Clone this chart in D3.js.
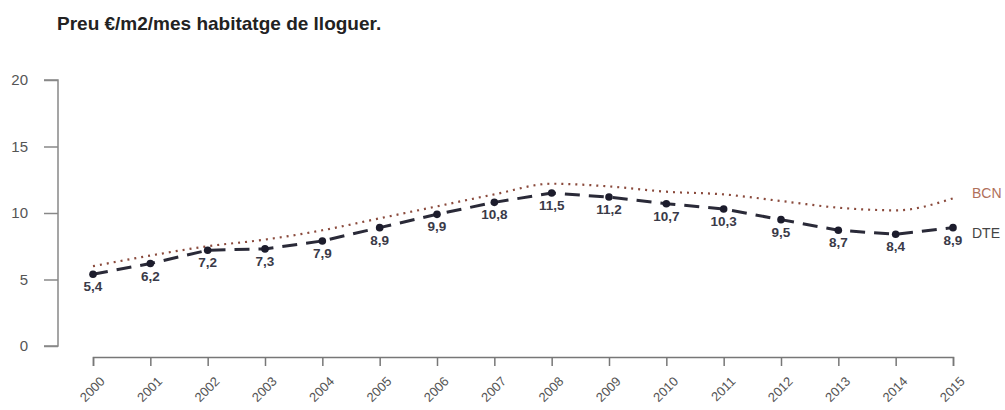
<!DOCTYPE html>
<html>
<head>
<meta charset="utf-8">
<script src="https://cdn.jsdelivr.net/npm/d3@7"></script>
<style>
  body { margin: 0; background: #fff; }
  svg { display: block; font-family: "Liberation Sans", Arial, Helvetica, sans-serif; }
</style>
</head>
<body>
<svg id="chart" width="1005" height="410"></svg>
<script>
const years = ["2000","2001","2002","2003","2004","2005","2006","2007","2008","2009","2010","2011","2012","2013","2014","2015"];
const dteValues = [5.4, 6.2, 7.2, 7.3, 7.9, 8.9, 9.9, 10.8, 11.5, 11.2, 10.7, 10.3, 9.5, 8.7, 8.4, 8.9];
const bcnValues = [6.0, 6.8, 7.5, 8.0, 8.7, 9.6, 10.5, 11.4, 12.2, 12.0, 11.6, 11.4, 10.9, 10.4, 10.2, 11.1];
const yTicks = [0, 5, 10, 15, 20];
const title = "Preu €/m2/mes habitatge de lloguer.";
const seriesNames = ["BCN", "DTE"];

const svg = d3.select("#chart");
const x = d3.scalePoint().domain(years).range([93, 953]);
const y = d3.scaleLinear().domain([0, 20]).range([346, 80]);

svg.append("text")
  .attr("x", 57).attr("y", 30)
  .attr("font-size", 19).attr("font-weight", "bold").attr("fill", "#222")
  .text(title);

// Y axis
const yAxis = svg.append("g").attr("transform", "translate(58,0)")
  .call(d3.axisLeft(y).tickValues(yTicks).tickSize(14).tickPadding(16).tickFormat(d3.format("d")));
yAxis.select(".domain").attr("stroke", "#888").attr("stroke-width", 1.5).attr("d", "M-14,80H0V346H-14");
yAxis.selectAll(".tick line").attr("stroke", "#888").attr("stroke-width", 1.5);
yAxis.selectAll(".tick text").attr("font-size", 15).attr("fill", "#555").attr("font-family", "Liberation Sans, Arial, sans-serif");

// X axis
const xAxis = svg.append("g").attr("transform", "translate(0,357)")
  .call(d3.axisBottom(x).tickSize(9).tickSizeOuter(9));
xAxis.select(".domain").attr("stroke", "#777").attr("stroke-width", 1.5);
xAxis.selectAll(".tick line").attr("stroke", "#777").attr("stroke-width", 1.5);
xAxis.selectAll(".tick text")
  .attr("font-size", 13).attr("fill", "#555").attr("font-family", "Liberation Sans, Arial, sans-serif")
  .attr("text-anchor", "end")
  .attr("transform", "translate(9,22) rotate(-45)")
  .attr("y", 0).attr("dy", "0.35em");

// BCN dotted line
const line = d3.line().x((d, i) => x(years[i])).y(d => y(d)).curve(d3.curveMonotoneX);
svg.append("path").datum(bcnValues)
  .attr("d", line).attr("fill", "none")
  .attr("stroke", "#8a4a3c").attr("stroke-width", 2.2)
  .attr("stroke-dasharray", "2,5");

// DTE dashed line
const lineD = d3.line().x((d, i) => x(years[i])).y(d => y(d));
svg.append("path").datum(dteValues)
  .attr("d", lineD).attr("fill", "none")
  .attr("stroke", "#2a2a38").attr("stroke-width", 3)
  .attr("stroke-dasharray", "15,9");

svg.append("g").selectAll("circle").data(dteValues).join("circle")
  .attr("cx", (d, i) => x(years[i])).attr("cy", d => y(d)).attr("r", 3.8)
  .attr("fill", "#1c1c2c");

svg.append("g").selectAll("text").data(dteValues).join("text")
  .attr("x", (d, i) => x(years[i])).attr("y", d => y(d) + 17)
  .attr("text-anchor", "middle").attr("font-size", 13.5).attr("font-weight", "bold")
  .attr("fill", "#3a3a48")
  .text(d => d3.format(".1f")(d).replace(".", ","));

// Series labels
svg.append("text").attr("x", 972).attr("y", 198)
  .attr("font-size", 14).attr("fill", "#b0705a").text(seriesNames[0]);
svg.append("text").attr("x", 972).attr("y", 238)
  .attr("font-size", 14).attr("fill", "#444").text(seriesNames[1]);
</script>
</body>
</html>
